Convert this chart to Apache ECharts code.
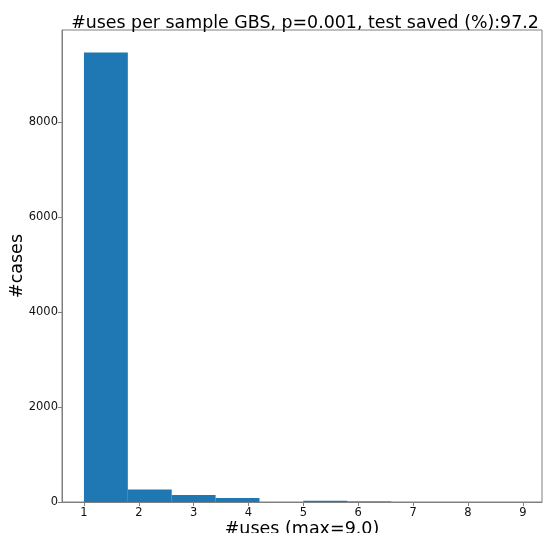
<!DOCTYPE html>
<html><head><meta charset="utf-8">
<script src="https://cdn.jsdelivr.net/npm/echarts@6/dist/echarts.min.js"></script>
<style>html,body{margin:0;padding:0;background:#fff}#c{width:543px;height:533px}</style>
</head><body><div id="c"></div>
<script>
const binEdges = [1.0, 1.8, 2.6, 3.4, 4.2, 5.0, 5.8, 6.6, 7.4, 8.2, 9.0];
const counts = [9468, 262, 148, 84, 0, 26, 12, 0, 0, 0];
const xTicks = [1, 2, 3, 4, 5, 6, 7, 8, 9];
const yTicks = [0, 2000, 4000, 6000, 8000];
const titleText = '#uses per sample GBS, p=0.001, test saved (%):97.2';
const xName = '#uses (max=9.0)';
const yName = '#cases';

const data = counts.map((c, i) => [binEdges[i], binEdges[i + 1], c]);
const font = 'DejaVu Sans';
const chart = echarts.init(document.getElementById('c'), null, {renderer: 'canvas'});
chart.setOption({
  animation: false,
  title: {text: titleText, left: 300, textAlign: 'center', top: 10,
    textStyle: {fontFamily: font, fontSize: 17.4, fontWeight: 'normal', color: '#000'}},
  grid: {left: 62, right: 1, top: 30, bottom: 31, show: true, borderColor: '#808080', borderWidth: 1,
    containLabel: false, outerBoundsMode: 'none'},
  xAxis: {type: 'value', min: 0.6, max: 9.35,
    name: xName, nameLocation: 'middle', nameGap: 18, nameMoveOverlap: false,
    nameTextStyle: {fontFamily: font, fontSize: 17.5, color: '#000'},
    splitLine: {show: false},
    axisLine: {show: true, lineStyle: {color: '#808080'}},
    axisTick: {show: true, length: 4, lineStyle: {color: '#808080'}, customValues: xTicks},
    axisLabel: {fontFamily: font, fontSize: 11.5, color: '#111', margin: 5, customValues: xTicks,
      formatter: v => String(v)}},
  yAxis: {type: 'value', min: 0, max: 9940,
    name: yName, nameLocation: 'middle', nameGap: 36, nameRotate: 90, nameMoveOverlap: false,
    nameTextStyle: {fontFamily: font, fontSize: 17.5, color: '#000'},
    splitLine: {show: false},
    axisLine: {show: true, lineStyle: {color: '#808080'}},
    axisTick: {show: true, length: 4, lineStyle: {color: '#808080'}, customValues: yTicks},
    axisLabel: {fontFamily: font, fontSize: 11.5, color: '#111', margin: 4, customValues: yTicks,
      formatter: v => String(v)}},
  series: [{
    type: 'custom',
    renderItem: function (params, api) {
      const p0 = api.coord([api.value(0), 0]);
      const p1 = api.coord([api.value(1), api.value(2)]);
      return {type: 'rect', shape: {x: p0[0], y: p1[1], width: p1[0] - p0[0], height: p0[1] - p1[1]},
        style: {fill: '#1f77b4'}};
    },
    encode: {x: [0, 1], y: 2},
    data: data
  }]
});
</script></body></html>
